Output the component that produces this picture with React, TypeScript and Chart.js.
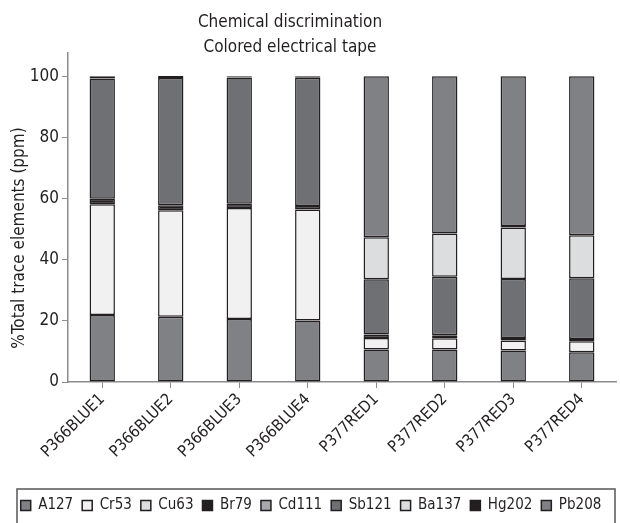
import React, { useEffect, useRef } from 'react';
import { Chart, registerables } from 'chart.js';

Chart.register(...registerables);

const FONT = "'DejaVu Sans Condensed', 'Liberation Sans Narrow', sans-serif";
const TEXT = '#231f20';
const AXIS = '#8c8c8c';

const titleLines = ['Chemical discrimination', 'Colored electrical tape'];
const yTitle = '%Total trace elements (ppm)';
const categories = ['P366BLUE1', 'P366BLUE2', 'P366BLUE3', 'P366BLUE4', 'P377RED1', 'P377RED2', 'P377RED3', 'P377RED4'];
const yTicks = [0, 20, 40, 60, 80, 100];

const seriesNames = ['A127', 'Cr53', 'Cu63', 'Br79', 'Cd111', 'Sb121', 'Ba137', 'Hg202', 'Pb208'];
const seriesColors = ['#808185', '#f1f1f1', '#dcdddf', '#231f20', '#a7a9ac', '#6f7074', '#dcdddf', '#231f20', '#808185'];

const A127 = [21.9, 21.3, 20.6, 20.1, 10.6, 10.6, 10.3, 9.7];
const Cr53 = [36.2, 34.9, 36.3, 36.3, 3.8, 3.7, 3.3, 3.6];
const Cu63 = [0, 0, 0, 0, 0, 0, 0, 0];
const Br79 = [1.8, 1.6, 1.4, 1.2, 1.1, 1.0, 0.8, 0.8];
const Cd111 = [0, 0, 0, 0, 0, 0, 0, 0];
const Sb121 = [39.4, 41.6, 41.3, 41.9, 18.1, 19.1, 19.3, 19.8];
const Ba137 = [0, 0, 0, 0, 13.7, 14.2, 16.8, 14.1];
const Hg202 = [0.7, 0.7, 0.4, 0.5, 0, 0, 0.5, 0];
const Pb208 = [0, 0, 0, 0, 52.7, 51.4, 49.0, 52.0];

const seriesValues = [A127, Cr53, Cu63, Br79, Cd111, Sb121, Ba137, Hg202, Pb208];

const overlay = {
  id: 'overlay',
  afterDraw(chart: any) {
    const ctx = chart.ctx;
    ctx.save();
    ctx.fillStyle = TEXT;
    ctx.font = `17px ${FONT}`;
    ctx.textAlign = 'center';
    ctx.textBaseline = 'middle';
    ctx.fillText(titleLines[0], 290, 23);
    ctx.fillText(titleLines[1], 290, 48);
    ctx.save();
    ctx.translate(20, 238);
    ctx.rotate(-Math.PI / 2);
    ctx.fillText(yTitle, 0, 0);
    ctx.restore();
    ctx.strokeStyle = '#555555';
    ctx.lineWidth = 1.5;
    ctx.strokeRect(17, 489, 598, 60);
    ctx.restore();
  },
};

export default function App() {
  const ref = useRef<HTMLCanvasElement>(null);
  useEffect(() => {
    if (!ref.current) return;
    const chart = new Chart(ref.current, {
      type: 'bar',
      data: {
        labels: categories,
        datasets: seriesNames.map((name, i) => ({
          label: name,
          data: seriesValues[i],
          backgroundColor: seriesColors[i],
          borderColor: TEXT,
          borderWidth: 1.5,
          borderSkipped: false,
          inflateAmount: 0,
          stack: 's',
          barPercentage: 0.37,
          categoryPercentage: 1,
        })),
      },
      options: {
        responsive: true,
        maintainAspectRatio: false,
        animation: false,
        layout: { padding: { top: 53, right: 4, left: 6, bottom: 0 } },
        plugins: {
          title: { display: false },
          tooltip: { enabled: false },
          legend: {
            position: 'bottom',
            labels: {
              font: { family: FONT, size: 15 },
              color: TEXT,
              boxWidth: 10,
              boxHeight: 10,
              padding: 9,
            },
          },
        },
        scales: {
          x: {
            stacked: true,
            grid: { drawOnChartArea: false, drawTicks: true, tickLength: 6, color: AXIS, offset: false },
            border: { color: AXIS, width: 1.5 },
            ticks: {
              color: TEXT,
              font: { family: FONT, size: 16 },
              minRotation: 45,
              maxRotation: 45,
              padding: 2,
            },
            afterFit: (s: any) => { s.height = 107; },
          },
          y: {
            stacked: true,
            min: 0,
            max: 107.6,
            grid: { drawOnChartArea: false, drawTicks: true, tickLength: 6, color: AXIS },
            border: { color: AXIS, width: 1.5 },
            afterBuildTicks: (s: any) => { s.ticks = yTicks.map((v) => ({ value: v })); },
            ticks: {
              color: TEXT,
              font: { family: FONT, size: 17 },
              padding: 3,
            },
            afterFit: (s: any) => { s.width = 62; },
          },
        },
      },
      plugins: [overlay],
    });
    return () => chart.destroy();
  }, []);
  return (
    <div style={{ position: 'fixed', left: 0, top: 0, width: 620, height: 523 }}>
      <canvas ref={ref} />
    </div>
  );
}
